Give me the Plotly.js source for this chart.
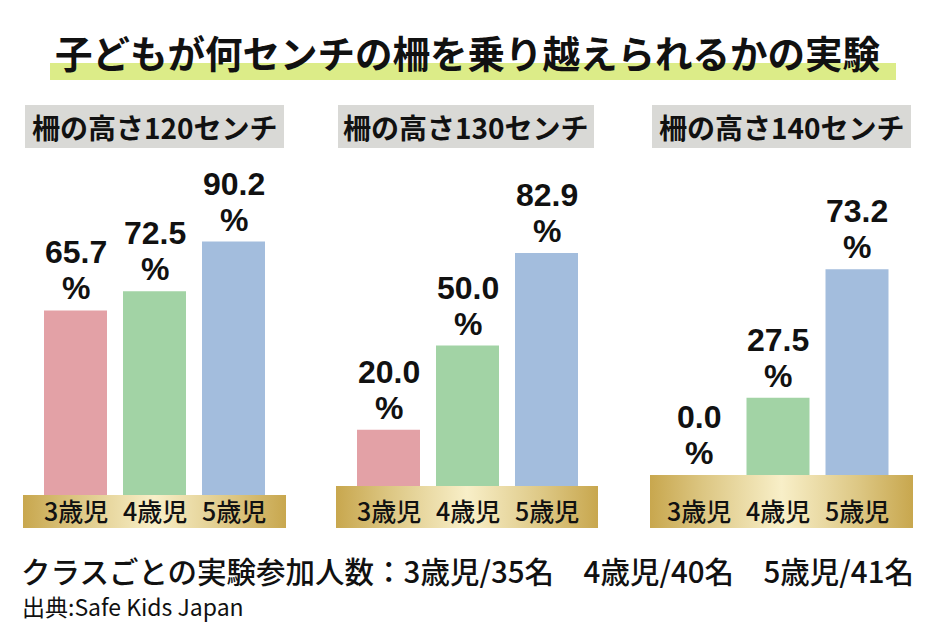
<!DOCTYPE html>
<html>
<head>
<meta charset="utf-8">
<script src="https://cdn.plot.ly/plotly-3.0.1.min.js"></script>
<style>
html,body{margin:0;padding:0;background:#fff;}
#chart{width:934px;height:641px;}
</style>
</head>
<body>
<div id="chart"></div>
<script>
// ---- data ----
const categories = ['3歳児', '4歳児', '5歳児'];
const panelTitles = ['柵の高さ120センチ', '柵の高さ130センチ', '柵の高さ140センチ'];
const fence120 = [65.7, 72.5, 90.2];
const fence130 = [20.0, 50.0, 82.9];
const fence140 = [0.0, 27.5, 73.2];
const chartTitle = '子どもが何センチの柵を乗り越えられるかの実験';
const noteText = 'クラスごとの実験参加人数：3歳児/35名　4歳児/40名　5歳児/41名';
const sourceText = '出典:Safe Kids Japan';

// ---- styling / layout helpers ----
const W = 934, H = 641;
const px = v => v / W;
const py = v => 1 - v / H;
const FONT = '"Noto Sans CJK JP", "Noto Sans", sans-serif';
const NUMFONT = '"Liberation Sans", Arial, sans-serif';
const barColors = ['#e3a1a6', '#a2d3a5', '#a3bddd'];
const PXPERPCT = 2.81;
const TOP = 150;

const series = [fence120, fence130, fence140];
const panels = [
  {dom: [36, 273], base: 495, band: [23, 286], box: [25, 284]},
  {dom: [349, 586], base: 486, band: [336, 598], box: [338, 594]},
  {dom: [659.5, 896.5], base: 475, band: [650, 913], box: [652, 911]}
];

const goldSvg = "<svg xmlns='http://www.w3.org/2000/svg' width='262' height='44' viewBox='0 0 262 44' preserveAspectRatio='none'>" +
  "<defs><linearGradient id='g' x1='0' y1='0' x2='1' y2='0'>" +
  "<stop offset='0' stop-color='#c8a74e'/><stop offset='0.2' stop-color='#dcc682'/>" +
  "<stop offset='0.5' stop-color='#f8efc8'/><stop offset='0.8' stop-color='#dcc682'/>" +
  "<stop offset='1' stop-color='#c8a74e'/></linearGradient></defs>" +
  "<rect x='0' y='0' width='262' height='44' fill='url(#g)'/></svg>";
const goldSrc = 'data:image/svg+xml;charset=utf-8,' + encodeURIComponent(goldSvg);

const traces = [];
const layout = {
  width: W, height: H,
  margin: {l: 0, r: 0, t: 0, b: 0},
  paper_bgcolor: '#ffffff',
  plot_bgcolor: 'rgba(0,0,0,0)',
  showlegend: false,
  bargap: 16 / 79,
  shapes: [],
  annotations: [],
  images: []
};

// title highlight + title
layout.shapes.push({type: 'rect', xref: 'paper', yref: 'paper', layer: 'below',
  x0: px(50), x1: px(896), y0: py(80), y1: py(63),
  fillcolor: '#dcec88', line: {width: 0}});
layout.annotations.push({xref: 'paper', yref: 'paper', x: px(467), y: py(52),
  xanchor: 'center', yanchor: 'middle', showarrow: false, text: chartTitle,
  font: {family: FONT, size: 37.5, color: '#111', weight: 'bold'}});

panels.forEach((p, i) => {
  const sfx = i === 0 ? '' : String(i + 1);
  const xa = 'x' + sfx, ya = 'y' + sfx;
  traces.push({
    type: 'bar', x: categories, y: series[i], xaxis: xa, yaxis: ya,
    marker: {color: barColors, line: {width: 0}},
    hoverinfo: 'skip'
  });
  layout['xaxis' + sfx] = {domain: [px(p.dom[0]), px(p.dom[1])], anchor: ya,
    range: [-0.5, 2.5], type: 'category', visible: false, fixedrange: true};
  layout['yaxis' + sfx] = {domain: [py(p.base), py(TOP)], anchor: xa,
    range: [0, (p.base - TOP) / PXPERPCT], visible: false, fixedrange: true};

  // value labels: number line and % line
  categories.forEach((c, j) => {
    const v = series[i][j];
    layout.annotations.push({xref: xa, yref: ya, x: c, y: v, yshift: 38,
      xanchor: 'center', yanchor: 'bottom', showarrow: false, text: v.toFixed(1),
      font: {family: NUMFONT, size: 32, color: '#111', weight: 'bold'}});
    layout.annotations.push({xref: xa, yref: ya, x: c, y: v, yshift: 2,
      xanchor: 'center', yanchor: 'bottom', showarrow: false, text: '%',
      font: {family: NUMFONT, size: 32, color: '#111', weight: 'bold'}});
  });

  // gray title box
  layout.shapes.push({type: 'rect', xref: 'paper', yref: 'paper', layer: 'below',
    x0: px(p.box[0]), x1: px(p.box[1]), y0: py(148), y1: py(105),
    fillcolor: '#d9d9d6', line: {width: 0}});
  layout.annotations.push({xref: 'paper', yref: 'paper', x: px((p.box[0] + p.box[1]) / 2), y: py(127),
    xanchor: 'center', yanchor: 'middle', showarrow: false, text: panelTitles[i],
    font: {family: FONT, size: 28, color: '#111', weight: 'bold'}});

  // gold band
  layout.images.push({source: goldSrc, xref: 'paper', yref: 'paper',
    x: px(p.band[0]), y: py(p.base), sizex: px(p.band[1]) - px(p.band[0]),
    sizey: py(p.base) - py(528), xanchor: 'left', yanchor: 'top',
    sizing: 'stretch', layer: 'above'});

  // category labels
  categories.forEach(c => {
    layout.annotations.push({xref: xa, yref: 'paper', x: c, y: py(510),
      xanchor: 'center', yanchor: 'middle', showarrow: false, text: c,
      font: {family: FONT, size: 25, color: '#111', weight: 500}});
  });
});

// footer
layout.annotations.push({xref: 'paper', yref: 'paper', x: px(19), y: py(570),
  xanchor: 'left', yanchor: 'middle', showarrow: false, text: noteText,
  font: {family: FONT, size: 29.5, color: '#111', weight: 500}});
layout.annotations.push({xref: 'paper', yref: 'paper', x: px(20), y: py(606),
  xanchor: 'left', yanchor: 'middle', showarrow: false, text: sourceText,
  font: {family: FONT, size: 23, color: '#111'}});

Plotly.newPlot('chart', traces, layout, {staticPlot: true, displayModeBar: false});
</script>
</body>
</html>
